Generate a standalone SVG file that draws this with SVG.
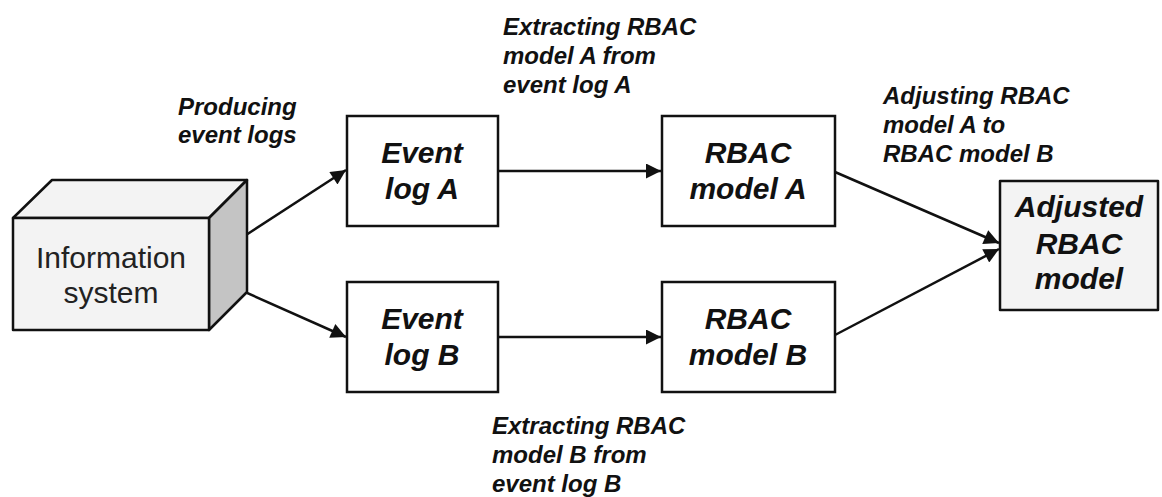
<svg xmlns="http://www.w3.org/2000/svg" width="1162" height="497" viewBox="0 0 1162 497">
<style>
.box{fill:#ffffff;stroke:#111;stroke-width:2.5}
.gbox{fill:#f3f3f3;stroke:#111;stroke-width:2.5;stroke-linejoin:round}
.side{fill:#c4c4c4;stroke:#111;stroke-width:2.5;stroke-linejoin:round}
.nl{font-family:"Liberation Sans",Arial,sans-serif;font-size:30px;font-weight:bold;font-style:italic;fill:#111;text-anchor:middle}
.nr{font-family:"Liberation Sans",Arial,sans-serif;font-size:30px;fill:#222;text-anchor:middle}
.el{font-family:"Liberation Sans",Arial,sans-serif;font-size:24px;font-weight:bold;font-style:italic;fill:#111}
.c{stroke:#111;stroke-width:2.5;fill:none;marker-end:url(#ah)}
</style>
<defs>
<marker id="ah" viewBox="0 0 10 10" refX="10" refY="5" markerWidth="7.5" markerHeight="6" markerUnits="strokeWidth" orient="auto">
<path d="M0,0 L10,5 L0,10 z" fill="#111"/>
</marker>
</defs>
<rect width="1162" height="497" fill="#ffffff"/>
<g id="connectors">
<line class="c" x1="246" y1="235" x2="346" y2="170"/>
<line class="c" x1="209" y1="276" x2="346" y2="337"/>
<line class="c" x1="498" y1="171" x2="661" y2="171"/>
<line class="c" x1="498" y1="337" x2="661" y2="337"/>
<line class="c" x1="835" y1="172" x2="999" y2="243"/>
<line class="c" x1="835" y1="335" x2="999" y2="249"/>
</g>
<g id="information-system">
<polygon class="gbox" points="13,218 52,180 247,180 209,218"/>
<polygon class="side" points="209,218 247,180 247,292 209,330"/>
<rect class="gbox" x="13" y="218" width="196" height="112"/>
<text class="nr" x="111" y="268">Information</text>
<text class="nr" x="111" y="303">system</text>
</g>
<g id="event-log-a">
<rect class="box" x="347" y="116" width="151" height="110"/>
<text class="nl" x="422" y="163">Event</text>
<text class="nl" x="422" y="199">log A</text>
</g>
<g id="event-log-b">
<rect class="box" x="347" y="282" width="151" height="110"/>
<text class="nl" x="422" y="329">Event</text>
<text class="nl" x="422" y="365">log B</text>
</g>
<g id="rbac-model-a">
<rect class="box" x="662" y="116" width="173" height="110"/>
<text class="nl" x="748" y="163">RBAC</text>
<text class="nl" x="748" y="199">model A</text>
</g>
<g id="rbac-model-b">
<rect class="box" x="662" y="282" width="173" height="110"/>
<text class="nl" x="748" y="329">RBAC</text>
<text class="nl" x="748" y="365">model B</text>
</g>
<g id="adjusted-rbac-model">
<rect class="gbox" x="1000" y="181" width="158" height="129"/>
<text class="nl" x="1079" y="217">Adjusted</text>
<text class="nl" x="1079" y="254">RBAC</text>
<text class="nl" x="1079" y="289">model</text>
</g>
<g id="edge-labels">
<text class="el" x="178" y="115">Producing</text>
<text class="el" x="178" y="143">event logs</text>
<text class="el" x="503" y="35">Extracting RBAC</text>
<text class="el" x="503" y="64">model A from</text>
<text class="el" x="503" y="93">event log A</text>
<text class="el" x="883" y="104">Adjusting RBAC</text>
<text class="el" x="883" y="133">model A to</text>
<text class="el" x="883" y="162">RBAC model B</text>
<text class="el" x="492" y="434">Extracting RBAC</text>
<text class="el" x="492" y="463">model B from</text>
<text class="el" x="492" y="492">event log B</text>
</g>
</svg>
